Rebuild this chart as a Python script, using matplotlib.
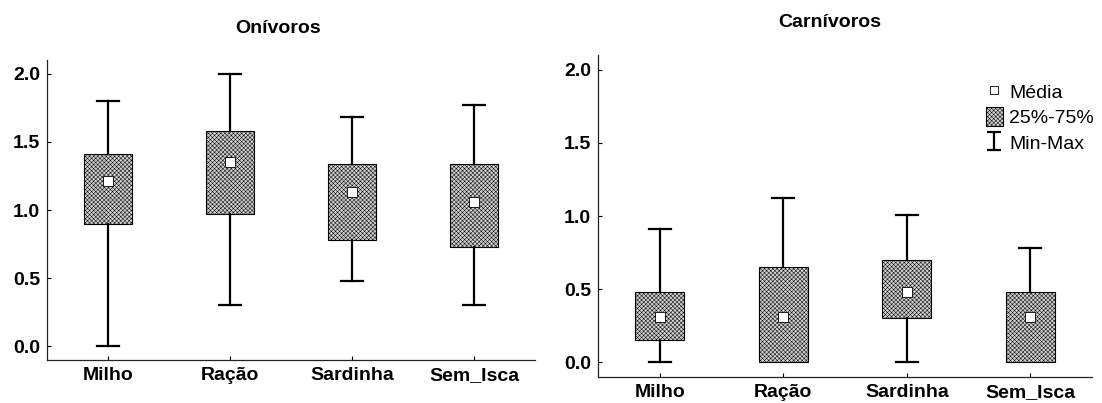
import numpy as np
import matplotlib.pyplot as plt
from matplotlib.path import Path
from matplotlib.lines import Line2D
from matplotlib.patches import Patch
from matplotlib.ticker import FormatStrFormatter

plt.rcParams['font.family'] = ['Liberation Sans', 'DejaVu Sans']
plt.rcParams['font.weight'] = 'bold'
plt.rcParams['hatch.linewidth'] = 0.35

categories = ['Milho', 'Ração', 'Sardinha', 'Sem_Isca']

# Onívoros
oni_min = [0.00, 0.30, 0.48, 0.30]
oni_q1 = [0.90, 0.97, 0.78, 0.73]
oni_mean = [1.21, 1.35, 1.13, 1.06]
oni_q3 = [1.41, 1.58, 1.34, 1.34]
oni_max = [1.80, 2.00, 1.68, 1.77]

# Carnívoros
car_min = [0.00, 0.00, 0.00, 0.00]
car_q1 = [0.15, 0.00, 0.30, 0.00]
car_mean = [0.31, 0.31, 0.48, 0.31]
car_q3 = [0.48, 0.65, 0.70, 0.48]
car_max = [0.91, 1.12, 1.01, 0.78]

box_style = dict(facecolor='#cfcfcf', edgecolor='black', hatch='xxxxxxxx', linewidth=0.8)
mean_style = dict(marker='s', markerfacecolor='white', markeredgecolor='black',
                  markersize=6.5, markeredgewidth=0.6)


def draw(ax, mins, q1s, means, q3s, maxs):
    stats = [dict(whislo=lo, q1=a, med=m, mean=m, q3=b, whishi=hi)
             for lo, a, m, b, hi in zip(mins, q1s, means, q3s, maxs)]
    parts = ax.bxp(stats, positions=[1, 2, 3, 4], widths=0.4, capwidths=0.18,
                   patch_artist=True, showmeans=True, showfliers=False,
                   boxprops=box_style,
                   whiskerprops=dict(color='black', linewidth=1.6),
                   capprops=dict(color='black', linewidth=1.6),
                   medianprops=dict(visible=False),
                   meanprops=mean_style)
    # no lower whisker when the minimum equals the first quartile
    for i, (lo, a) in enumerate(zip(mins, q1s)):
        if lo == a:
            parts['caps'][2 * i].set_visible(False)
    ax.set_xlim(0.5, 4.5)
    ax.set_ylim(-0.1, 2.1)
    ax.set_xticks([1, 2, 3, 4], categories)
    ax.set_yticks([0, 0.5, 1.0, 1.5, 2.0])
    ax.yaxis.set_major_formatter(FormatStrFormatter('%.1f'))
    ax.spines['top'].set_visible(False)
    ax.spines['right'].set_visible(False)
    for sp in ('left', 'bottom'):
        ax.spines[sp].set_linewidth(0.9)
        ax.spines[sp].set_color('#222222')
    ax.tick_params(direction='in', length=3, width=0.8, labelsize=14)
    ax.tick_params(axis='y', pad=5)
    ax.tick_params(axis='x', pad=5)


fig = plt.figure(figsize=(11.02, 4.03), dpi=100)
ax1 = fig.add_axes([0.0427, 0.1067, 0.4428, 0.7443])
ax2 = fig.add_axes([0.5426, 0.0645, 0.4484, 0.799])

draw(ax1, oni_min, oni_q1, oni_mean, oni_q3, oni_max)
draw(ax2, car_min, car_q1, car_mean, car_q3, car_max)

fig.text(0.252, 0.93, 'Onívoros', ha='center', va='center', fontsize=14, fontweight='bold')
fig.text(0.753, 0.945, 'Carnívoros', ha='center', va='center', fontsize=14, fontweight='bold')

ibeam = Path([(-0.8, -1), (0.8, -1), (0, -1), (0, 1), (-0.8, 1), (0.8, 1)],
             [Path.MOVETO, Path.LINETO, Path.MOVETO, Path.LINETO, Path.MOVETO, Path.LINETO])
handles = [
    Line2D([], [], linestyle='none', **dict(mean_style, markersize=5.5)),
    Patch(**box_style),
    Line2D([], [], linestyle='none', marker=ibeam, markersize=13,
           markeredgecolor='black', markeredgewidth=1.6),
]
ax2.legend(handles, ['Média', '25%-75%', 'Min-Max'], loc='upper left',
           bbox_to_anchor=(986 / 1102, 1 - 82 / 403), bbox_transform=fig.transFigure,
           frameon=False, borderpad=0, borderaxespad=0, handlelength=0.85,
           handleheight=1.05, handletextpad=0.35, labelspacing=0.3,
           prop=dict(size=14, weight='normal'))

fig.savefig('out.png', dpi=100)
